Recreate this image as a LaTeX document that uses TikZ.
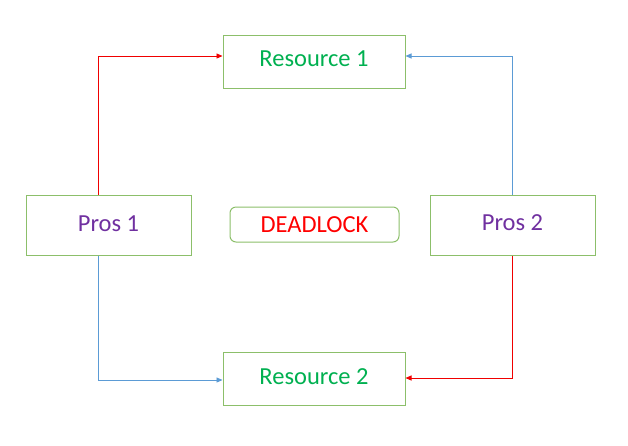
\documentclass[tikz,border=0pt]{standalone}
\usepackage{fontspec}
\setmainfont{Carlito}
\usetikzlibrary{arrows.meta}
\definecolor{boxgreen}{HTML}{8CBF6A}
\definecolor{txtgreen}{HTML}{00B050}
\definecolor{txtpurple}{HTML}{7030A0}
\definecolor{arrred}{HTML}{F00000}
\definecolor{arrblue}{HTML}{5B9BD5}
\tikzset{
  box/.style={draw=boxgreen, line width=1pt, inner sep=0pt, font=\fontsize{24.5}{28}\selectfont},
  res/.style={box, minimum width=182pt, minimum height=53pt, text=txtgreen},
  pros/.style={box, minimum width=165pt, minimum height=60pt, text=txtpurple},
  conn/.style={line width=0.9pt, -{Triangle[length=6pt,width=5pt]}},
}
\begin{document}
\begin{tikzpicture}[x=1pt,y=-1pt]
\useasboundingbox (0,0) rectangle (628,445);
\node[res] (r1) at (314,61.5) {\raisebox{5pt}{Resource 1}};
\node[res] (r2) at (314,378.5) {\raisebox{3pt}{Resource 2}};
\node[pros] (p1) at (108.5,225.5) {\raisebox{4pt}{Pros 1}};
\node[pros] (p2) at (512.5,225) {\raisebox{5pt}{Pros 2}};
\node[box, rounded corners=6pt, minimum width=169pt, minimum height=35pt, text=red] (dl) at (314.5,224.5) {\raisebox{-3pt}{DEADLOCK}};
\draw[conn, arrred] (p1.north -| 98,0) |- (r1.west |- 0,56);
\draw[conn, arrblue] (p2.north -| 512,0) |- (r1.east |- 0,56);
\draw[conn, arrblue] (p1.south -| 98,0) |- (r2.west |- 0,380);
\draw[conn, arrred] (p2.south -| 512,0) |- (r2.east |- 0,378);
\end{tikzpicture}
\end{document}
